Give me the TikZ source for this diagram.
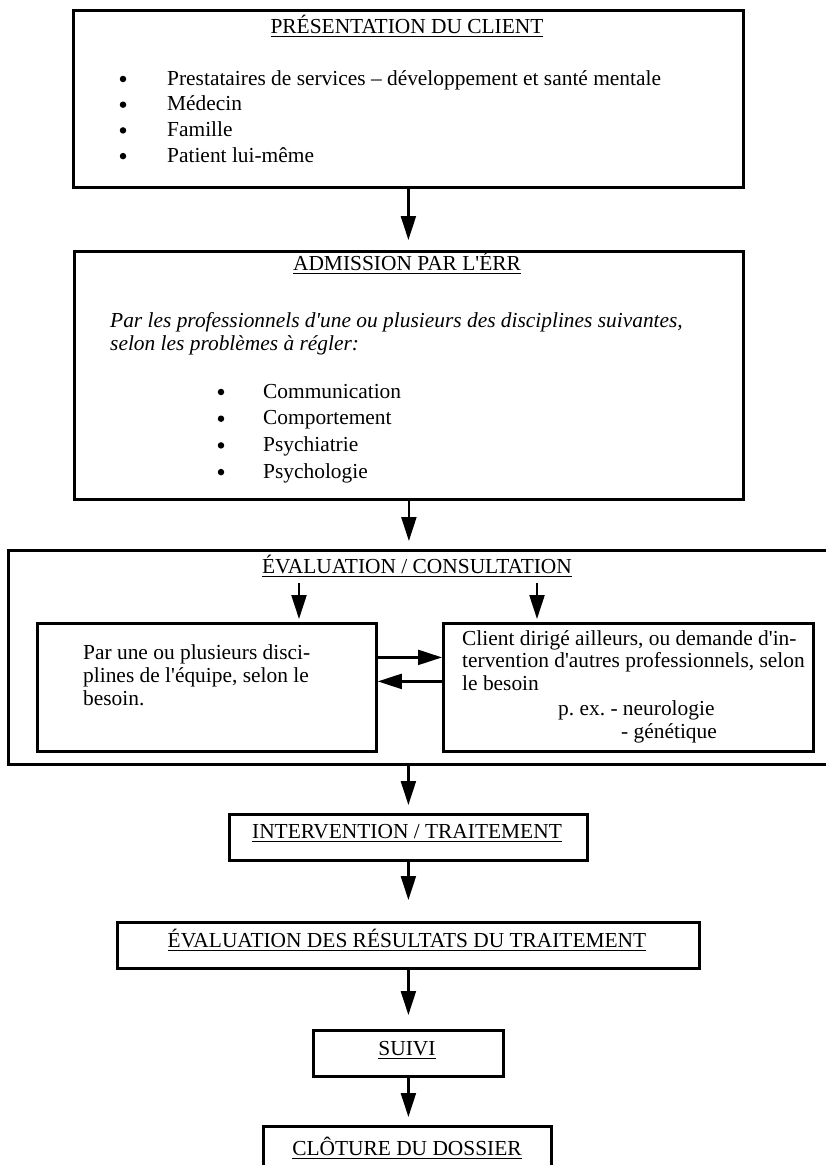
\documentclass[tikz,border=0pt]{standalone}
\usepackage{fontspec}
\setmainfont{Liberation Serif}[Ligatures=TeXOff]
\usepackage{tikz}
\usetikzlibrary{positioning, arrows.meta, calc}
\newcommand{\ultitle}[1]{\setbox0\hbox{#1}\rlap{\vrule height -2.8pt depth 4.3pt width \wd0}\box0}
\frenchspacing

\begin{document}
\begin{tikzpicture}[x=1pt, y=-1pt,
  flowbox/.style={rectangle, draw=black, line width=2.8pt,
                  anchor=north west, inner sep=0pt},
  arrowstyle/.style={-{Triangle[length=24pt, width=15pt]}, line width=2.2pt},
  txt/.style={anchor=base west, inner sep=0pt, font=\fontsize{21.4}{25}\selectfont},
  ttl/.style={anchor=base, inner sep=0pt, font=\fontsize{21.4}{25}\selectfont},
  dot/.style={circle, fill=black, draw=none, minimum size=6.5pt, inner sep=0pt}
]
\useasboundingbox (0,0) rectangle (825,1165);
% boxes of the flow
\foreach \n/\x/\y/\w/\h in {%
  pres/72/9/670/177,%
  adm/73/250/669/248,%
  eval/7/549/830/214,%
  evl/36/622/339/128,%
  evr/442/622/370/128,%
  intv/228/813/358/46,%
  res/116/921/582/46,%
  suivi/312/1029/190/46,%
  clot/262/1125/288/80%
} {
  \node[flowbox, minimum width=\w pt, minimum height=\h pt] (\n) at (\x,\y) {};
}
% presentation du client
\node[ttl] (t1) at (407,33) {\ultitle{PRÉSENTATION DU CLIENT}};
\foreach \t [count=\k from 0] in {%
  Prestataires de services – développement et santé mentale,%
  Médecin, Famille, Patient lui-même} {
  \node[dot] (pb\k) at (123,{79+25.7*\k}) {};
  \node[txt] (pi\k) at (167,{85+25.7*\k}) {\t};
}
% admission
\node[ttl] (t2) at (407,270) {\ultitle{ADMISSION PAR L'ÉRR}};
\node[txt] (it1) at (110,327) {\itshape Par les professionnels d'une ou plusieurs des disciplines suivantes,};
\node[txt] (it2) at (110,350) {\itshape selon les problèmes à régler:};
\foreach \t [count=\k from 0] in {Communication, Comportement, Psychiatrie, Psychologie} {
  \node[dot] (ab\k) at (221,{392+26.7*\k}) {};
  \node[txt] (ai\k) at (263,{398+26.7*\k}) {\t};
}
% evaluation / consultation
\node[ttl] (t3) at (417,573) {\ultitle{ÉVALUATION / CONSULTATION}};
\node[txt] (l1) at (83,659) {Par une ou plusieurs disci-};
\node[txt] (l2) at (83,682) {plines de l'équipe, selon le};
\node[txt] (l3) at (83,705) {besoin.};
\node[txt] (r1) at (462,645) {Client dirigé ailleurs, ou demande d'in-};
\node[txt] (r2) at (462,667) {tervention d'autres professionnels, selon};
\node[txt] (r3) at (462,690) {le besoin};
\node[txt] (r4) at (558,715) {p. ex. - neurologie};
\node[txt] (r5) at (621,738) {- génétique};
% lower steps
\node[ttl] (t4) at (407,838) {\ultitle{INTERVENTION / TRAITEMENT}};
\node[ttl] (t5) at (407,947) {\ultitle{ÉVALUATION DES RÉSULTATS DU TRAITEMENT}};
\node[ttl] (t6) at (407,1055) {\ultitle{SUIVI}};
\node[ttl] (t7) at (407,1155) {\ultitle{CLÔTURE DU DOSSIER}};
% arrows
\draw[arrowstyle, shorten >=10pt] (pres.south) -- (pres.south |- adm.north);
\draw[arrowstyle, shorten >=8pt] (adm.south) -- (adm.south |- eval.north);
\draw[arrowstyle, shorten >=8pt] (intv.north |- eval.south) -- (intv.north);
\draw[arrowstyle, shorten >=21pt] (intv.south) -- (intv.south |- res.north);
\draw[arrowstyle, shorten >=14pt] (res.south) -- (res.south |- suivi.north);
\draw[arrowstyle, shorten >=8pt] (suivi.south) -- (suivi.south |- clot.north);
\coordinate (c1) at (299,583);
\coordinate (c2) at (537,583);
\draw[arrowstyle, shorten >=3pt] (c1) -- (c1 |- evl.north);
\draw[arrowstyle, shorten >=3pt] (c2) -- (c2 |- evr.north);
\draw[arrowstyle] ([yshift=30pt]evl.east) -- ([yshift=30pt]evl.east -| evr.west);
\draw[arrowstyle] ([yshift=6pt]evl.east -| evr.west) -- ([yshift=6pt]evl.east);
\end{tikzpicture}
\end{document}
